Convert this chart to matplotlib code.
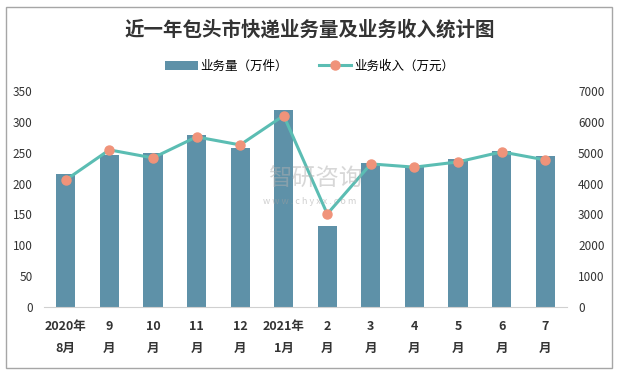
import matplotlib.pyplot as plt
from matplotlib.patches import Rectangle

plt.rcParams['font.family'] = ['Noto Sans CJK SC', 'DejaVu Sans']

# 数据
months = ['2020年\n8月', '9\n月', '10\n月', '11\n月', '12\n月', '2021年\n1月',
          '2\n月', '3\n月', '4\n月', '5\n月', '6\n月', '7\n月']
volume = [216, 246, 249, 278, 258, 319, 131, 233, 228, 239, 252, 244]       # 万件
income = [4115, 5090, 4830, 5510, 5250, 6200, 3015, 4635, 4530, 4700, 5025, 4765]  # 万元

bar_color = '#5e91a8'
line_color = '#5bbdb3'
marker_color = '#f0937a'

fig = plt.figure(figsize=(6.19, 3.74), dpi=100)
ax = fig.add_axes([0.071, 0.179, 0.845, 0.578])
ax2 = ax.twinx()

x = range(len(months))
b = ax.bar(x, volume, width=0.44, color=bar_color, label='业务量（万件）', zorder=2)
l, = ax2.plot(x, income, color=line_color, lw=2.2, marker='o', markersize=6.5,
              markerfacecolor=marker_color, markeredgecolor=marker_color,
              label='业务收入（万元）', zorder=3)

ax.set_xlim(-0.5, len(months) - 0.5)
ax.set_ylim(0, 350)
ax.set_yticks(range(0, 351, 50))
ax2.set_ylim(0, 7000)
ax2.set_yticks(range(0, 7001, 1000))

for a in (ax, ax2):
    for s in a.spines.values():
        s.set_visible(False)
    a.tick_params(length=0, labelsize=8.5, colors='#333333')
ax.spines['bottom'].set_visible(True)
ax.spines['bottom'].set_color('#d0d0d0')
ax.set_xticks(list(x))
ax.set_xticklabels(months, fontsize=9, fontweight='bold', linespacing=1.9)
ax.tick_params(axis='x', pad=9)
ax.tick_params(axis='y', pad=8)
ax2.tick_params(axis='y', pad=8)

fig.text(0.5, 0.92, '近一年包头市快递业务量及业务收入统计图', ha='center', va='center',
         fontsize=14, fontweight='bold', color='#333333')
fig.legend(handles=[b, l], loc='center', bbox_to_anchor=(0.5, 0.823), ncol=2,
           frameon=False, fontsize=9, handlelength=2.6, columnspacing=2.5,
           handletextpad=0.2)

# 水印
fig.text(0.51, 0.52, '智研咨询', ha='center', va='center', fontsize=17,
         color='#b0b0b0', alpha=0.5)
fig.text(0.5, 0.46, 'w w w . c h y x x . c o m', ha='center', va='center',
         fontsize=6.5, color='#a0a0a0', alpha=0.5)

fig.patches.append(Rectangle((0.009, 0.016), 0.98, 0.965, transform=fig.transFigure,
                             fill=False, edgecolor='#a6a6a6', lw=1))

fig.savefig('out.png', dpi=100)
